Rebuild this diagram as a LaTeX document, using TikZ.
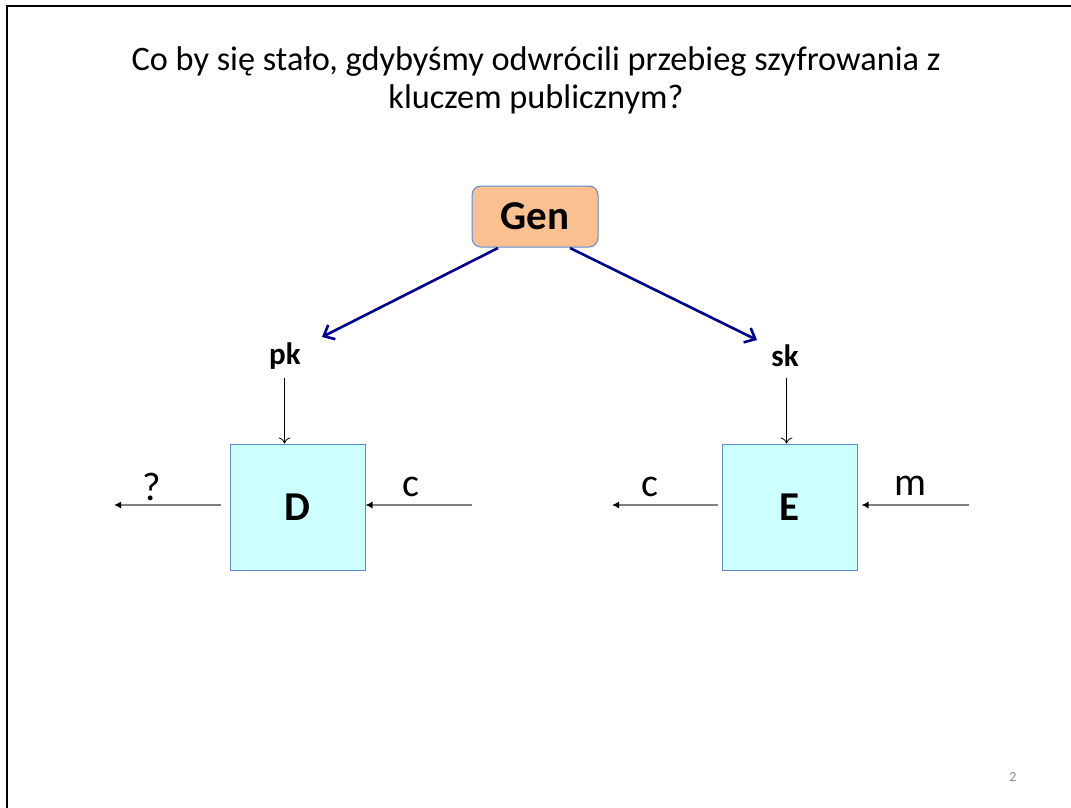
\documentclass[tikz,border=0pt]{standalone}
\usepackage{fontspec}
\setmainfont{Carlito}
\usetikzlibrary{arrows.meta}
\definecolor{genfill}{RGB}{250,192,143}
\definecolor{boxline}{RGB}{91,140,210}
\definecolor{cryfill}{RGB}{204,255,255}
\definecolor{keyarrow}{RGB}{0,0,144}
\definecolor{wire}{RGB}{128,128,128}
\definecolor{pagenum}{RGB}{137,137,137}
\tikzset{
  genbox/.style={draw=boxline, line width=1pt, fill=genfill, rounded corners=9pt,
    minimum width=126pt, minimum height=61pt, inner sep=0pt,
    font=\fontsize{41}{41}\selectfont\bfseries},
  crybox/.style={draw=boxline, line width=1pt, fill=cryfill,
    minimum width=135pt, minimum height=126pt, inner sep=0pt,
    font=\fontsize{41}{41}\selectfont\bfseries},
  keylabel/.style={font=\fontsize{31}{31}\selectfont\bfseries, inner sep=0pt},
  wirelabel/.style={font=\fontsize{40}{40}\selectfont, inner sep=0pt},
  keyarr/.style={draw=keyarrow, line width=2.6pt, -{Straight Barb[length=9pt,width=16pt,line width=2.6pt]}},
  feed/.style={draw=black, line width=0.8pt, -{To[length=6pt,width=12pt]}},
  flow/.style={draw=wire, line width=1.3pt, -{Latex[length=7pt,width=7pt,color=black]}},
}
\begin{document}
\begin{tikzpicture}[x=1pt,y=-1pt]
\useasboundingbox (0,0) rectangle (1071,808);
\fill[white] (0,0) rectangle (1071,808);
% slide frame (right and bottom edges lie outside the page)
\draw[line width=2pt] (7,820) -- (7,6) -- (1080,6);

% title
\node[align=center, font=\fontsize{34.3}{38}\selectfont] (title) at (536,80)
  {Co by się stało, gdybyśmy odwrócili przebieg szyfrowania z\\kluczem publicznym?};

% key generation
\node[genbox] (gen) at (535,216.5) {Gen};
\node[keylabel] (pk) at (285,356) {pk};
\node[keylabel] (sk) at (785,356) {sk};
\coordinate (genL) at (498,248);
\coordinate (genR) at (570,248);
\draw[keyarr] (genL) -- (322,337);
\draw[keyarr] (genR) -- (757,340);

% algorithm boxes
\node[crybox] (D) at (297.5,507) {D};
\node[crybox] (E) at (789.5,507) {E};

% key inputs
\coordinate (pkin) at (284.5,378);
\coordinate (skin) at (786.5,378);
\draw[feed] (pkin) -- (pkin |- D.north);
\draw[feed] (skin) -- (skin |- E.north);

% data wires
\coordinate (Dout) at (114,505);
\coordinate (Din) at (472,505);
\coordinate (Eout) at (612,505);
\coordinate (Ein) at (969,505);
\draw[flow] (221,505) -- (Dout);
\draw[flow] (Din) -- (D.east |- Din);
\draw[flow] (718,505) -- (Eout);
\draw[flow] (Ein) -- ([xshift=4pt]E.east |- Ein);
\node[wirelabel] (q) at (152,487) {?};
\node[wirelabel] (c1) at (411,487) {c};
\node[wirelabel] (c2) at (650,487) {c};
\node[wirelabel] (m) at (910,486) {m};

% page number
\node[font=\fontsize{14}{14}\selectfont, text=pagenum] (num) at (1013,777) {2};
\end{tikzpicture}
\end{document}
